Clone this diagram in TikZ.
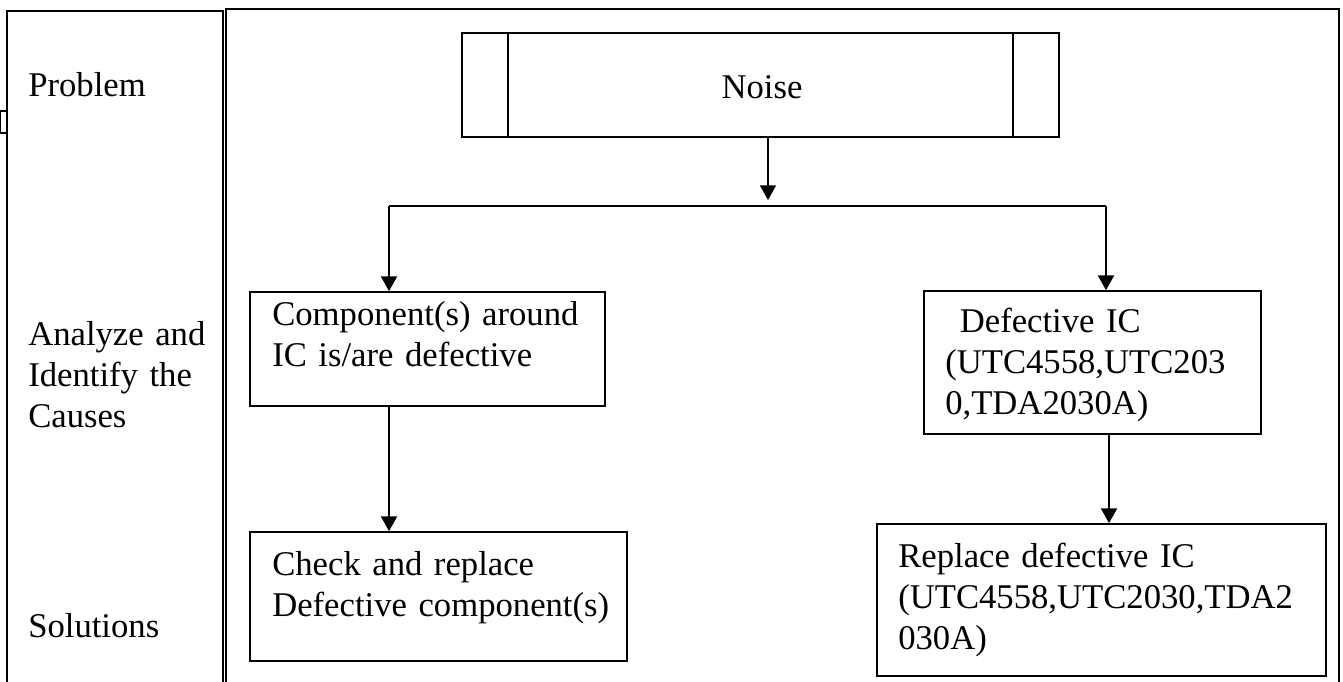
\documentclass[tikz,border=0pt]{standalone}
\usepackage{fontspec}
\setmainfont{Liberation Serif}
\usetikzlibrary{arrows.meta,fit}
\tikzset{
  box/.style={draw, line width=1.3pt, inner sep=0pt},
  frame/.style={line width=1.4pt},
  txt/.style={inner sep=0pt, anchor=base west, align=left, text width=#1,
    font=\fontsize{26}{30.9}\selectfont},
  txt/.default=300pt,
  arr/.style={line width=1.2pt, -{Triangle[width=12pt,length=11pt]}},
  conn/.style={line width=1.2pt}
}
\begin{document}
\begin{tikzpicture}[x=0.75pt,y=-0.75pt]
\useasboundingbox (0,0) rectangle (1343,682);
% outer frames
\draw[frame] (7,690) -- (7,11) -- (223,11) -- (223,690);
\draw[frame] (226,690) -- (226,9) -- (1339,9) -- (1339,690);
\draw[line width=1pt] (0.4,111) rectangle (7,133);
% stage labels
\node[txt] (lprob) at (28,96) {Problem};
\node[txt] (lcause) at (28,345) {Analyze and\\Identify the\\Causes};
\node[txt] (lsol) at (28,637) {Solutions};
% boxes
\coordinate (n1) at (462,33); \coordinate (n2) at (1059,137);
\node[box, fit=(n1)(n2)] (noise) {};
\node[font=\fontsize{26}{30.9}\selectfont, inner sep=0pt, anchor=base] (noiset) at (762,98) {Noise};
\draw[line width=1.3pt] (508,33) -- (508,137);
\draw[line width=1.3pt] (1013,33) -- (1013,137);

\coordinate (c1) at (250,292); \coordinate (c2) at (605,406);
\node[box, fit=(c1)(c2)] (comp) {};
\node[txt] (compt) at (272,325) {Component(s) around\\IC is/are defective};

\coordinate (d1) at (924,291); \coordinate (d2) at (1261,434);
\node[box, fit=(d1)(d2)] (dic) {};
\node[txt] (dict) at (945,332) {\hspace*{0.42em}Defective IC\\(UTC4558,UTC203\\0,TDA2030A)};

\coordinate (s1) at (250,532); \coordinate (s2) at (627,661);
\node[box, fit=(s1)(s2)] (sol) {};
\node[txt] (solt) at (272,575) {Check and replace\\Defective component(s)};

\coordinate (r1) at (877,524); \coordinate (r2) at (1326,676);
\node[box, fit=(r1)(r2)] (rep) {};
\node[txt=340pt] (rept) at (898,567) {Replace defective IC\\(UTC4558,UTC2030,TDA2\\030A)};

% connectors
\coordinate (split) at (768,206);
\coordinate (bl) at (389,206);
\coordinate (br) at (1106,206);
\draw[arr, shorten >=4.5pt] (noise.south -| split) -- (split);
\draw[conn] (bl) -- (br);
\draw[arr] (bl) -- (comp.north -| bl);
\draw[arr] (br) -- (dic.north -| br);
\draw[arr] (comp.south -| bl) -- (sol.north -| bl);
\coordinate (dx) at (1109,0);
\draw[arr] (dic.south -| dx) -- (rep.north -| dx);
\end{tikzpicture}
\end{document}
